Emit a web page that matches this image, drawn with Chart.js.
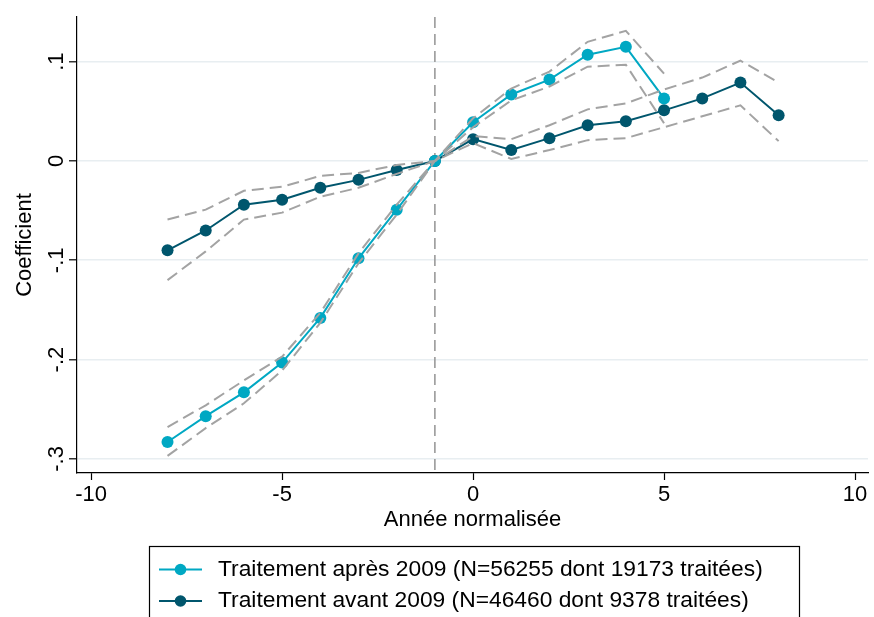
<!DOCTYPE html>
<html><head><meta charset="utf-8">
<script src="https://cdn.jsdelivr.net/npm/chart.js@4/dist/chart.umd.min.js"></script>
<style>html,body{margin:0;padding:0;background:#fff;} #wrap{width:874px;height:617px;position:relative;}</style>
</head><body><div id="wrap"><canvas id="c" width="874" height="617"></canvas></div>
<script>
// ---- data ----
const xAfter = [-8, -7, -6, -5, -4, -3, -2, -1, 0, 1, 2, 3, 4, 5];
const coefAfter = [-0.283, -0.257, -0.233, -0.203, -0.158, -0.098, -0.049, 0, 0.039, 0.067, 0.082, 0.107, 0.115, 0.063];
const lowAfter  = [-0.297, -0.269, -0.244, -0.211, -0.163, -0.103, -0.054, 0, 0.034, 0.061, 0.075, 0.095, 0.097, 0.038];
const highAfter = [-0.268, -0.246, -0.221, -0.197, -0.153, -0.093, -0.044, 0, 0.043, 0.073, 0.090, 0.120, 0.131, 0.088];

const xBefore = [-8, -7, -6, -5, -4, -3, -2, -1, 0, 1, 2, 3, 4, 5, 6, 7, 8];
const coefBefore = [-0.090, -0.070, -0.044, -0.039, -0.027, -0.019, -0.009, 0, 0.022, 0.011, 0.023, 0.036, 0.040, 0.051, 0.063, 0.079, 0.046];
const lowBefore  = [-0.120, -0.091, -0.059, -0.052, -0.036, -0.027, -0.013, 0, 0.018, 0.002, 0.011, 0.021, 0.023, 0.034, 0.045, 0.056, 0.020];
const highBefore = [-0.059, -0.049, -0.030, -0.026, -0.015, -0.012, -0.004, 0, 0.025, 0.022, 0.036, 0.052, 0.058, 0.072, 0.084, 0.101, 0.079];

const seriesNames = ["Traitement après 2009 (N=56255 dont 19173 traitées)", "Traitement avant 2009 (N=46460 dont 9378 traitées)"];
const xTicks = [-10, -5, 0, 5, 10];
const yTicks = [-0.3, -0.2, -0.1, 0, 0.1];
const yTickLabels = ["-.3", "-.2", "-.1", "0", ".1"];
const xTitle = "Année normalisée";
const yTitle = "Coefficient";
const refX = -1;

// ---- styles ----
const FONT = "'Liberation Sans', Arial, Helvetica, sans-serif";
const C_AFTER = '#00a8c3';
const C_BEFORE = '#00566d';
const C_CI = '#a3a3a3';
const seriesColors = [C_AFTER, C_BEFORE];

function pts(xs, ys) { return xs.map((x, i) => ({ x: x, y: ys[i] })); }

function ciSet(xs, ys) {
  return { data: pts(xs, ys), showLine: true, borderColor: C_CI, borderWidth: 2, borderDash: [12, 6],
           pointRadius: 0, pointHoverRadius: 0, fill: false, order: 0, tension: 0 };
}
function serSet(xs, ys, col) {
  return { data: pts(xs, ys), showLine: true, borderColor: col, backgroundColor: col, borderWidth: 2,
           pointRadius: 6, pointHoverRadius: 6, pointBorderWidth: 0, pointBackgroundColor: col, order: 1, tension: 0 };
}

const refLinePlugin = {
  id: 'refLine',
  beforeDatasetsDraw(chart) {
    const { ctx, chartArea: a, scales: { x } } = chart;
    const px = x.getPixelForValue(refX);
    ctx.save();
    ctx.strokeStyle = '#9a9a9a'; ctx.lineWidth = 1.6; ctx.setLineDash([11, 6]);
    ctx.beginPath(); ctx.moveTo(px, a.top); ctx.lineTo(px, a.bottom); ctx.stroke();
    ctx.restore();
  }
};

const decorPlugin = {
  id: 'decor',
  afterDraw(chart) {
    const { ctx, chartArea: a, scales: { y } } = chart;
    ctx.save();
    ctx.fillStyle = '#000';
    ctx.font = '22px ' + FONT;
    ctx.textAlign = 'center'; ctx.textBaseline = 'middle';
    yTicks.forEach((v, i) => {
      const py = y.getPixelForValue(v);
      ctx.save(); ctx.translate(57, py); ctx.rotate(-Math.PI / 2); ctx.fillText(yTickLabels[i], 0, 0); ctx.restore();
    });
    ctx.save(); ctx.translate(25, (a.top + a.bottom) / 2); ctx.rotate(-Math.PI / 2); ctx.fillText(yTitle, 0, 0); ctx.restore();
    ctx.fillText(xTitle, (a.left + a.right) / 2, 520);

    // legend
    ctx.setLineDash([]);
    ctx.lineWidth = 1.2; ctx.strokeStyle = '#000';
    ctx.strokeRect(149.5, 546.5, 650, 90);
    ctx.font = '22.8px ' + FONT;
    ctx.textAlign = 'left';
    const rows = [569.5, 601];
    seriesNames.forEach((name, i) => {
      const yy = rows[i];
      ctx.strokeStyle = seriesColors[i]; ctx.lineWidth = 2;
      ctx.beginPath(); ctx.moveTo(159, yy); ctx.lineTo(202, yy); ctx.stroke();
      ctx.fillStyle = seriesColors[i];
      ctx.beginPath(); ctx.arc(180.5, yy, 5.8, 0, Math.PI * 2); ctx.fill();
      ctx.fillStyle = '#000';
      ctx.fillText(name, 218, yy);
    });
    ctx.restore();
  }
};

new Chart(document.getElementById('c'), {
  type: 'scatter',
  data: {
    datasets: [
      ciSet(xAfter, lowAfter), ciSet(xAfter, highAfter),
      ciSet(xBefore, lowBefore), ciSet(xBefore, highBefore),
      serSet(xAfter, coefAfter, C_AFTER),
      serSet(xBefore, coefBefore, C_BEFORE)
    ]
  },
  options: {
    responsive: false, animation: false, devicePixelRatio: 1,
    layout: { padding: { left: 0, top: 17, right: 4, bottom: 0 } },
    plugins: { legend: { display: false }, tooltip: { enabled: false } },
    scales: {
      x: {
        type: 'linear', min: -10.37, max: 10.34,
        afterBuildTicks: s => { s.ticks = xTicks.map(v => ({ value: v })); },
        afterFit: s => { s.height = 144; },
        grid: { drawOnChartArea: false, drawTicks: true, tickLength: 7, tickColor: '#000', tickWidth: 1.2 },
        border: { display: true, color: '#000', width: 1.2 },
        ticks: { color: '#000', font: { family: FONT, size: 22 }, padding: 2, maxRotation: 0, minRotation: 0,
                 callback: v => String(v) }
      },
      y: {
        type: 'linear', min: -0.3142, max: 0.145,
        afterBuildTicks: s => { s.ticks = yTicks.map(v => ({ value: v })); },
        afterFit: s => { s.width = 77; },
        grid: { color: '#e8eef1', lineWidth: 1.6, drawTicks: true, tickLength: 8, tickColor: '#000', tickWidth: 1.2 },
        border: { display: true, color: '#000', width: 1.2 },
        ticks: { display: false }
      }
    }
  },
  plugins: [refLinePlugin, decorPlugin]
});
</script></body></html>
